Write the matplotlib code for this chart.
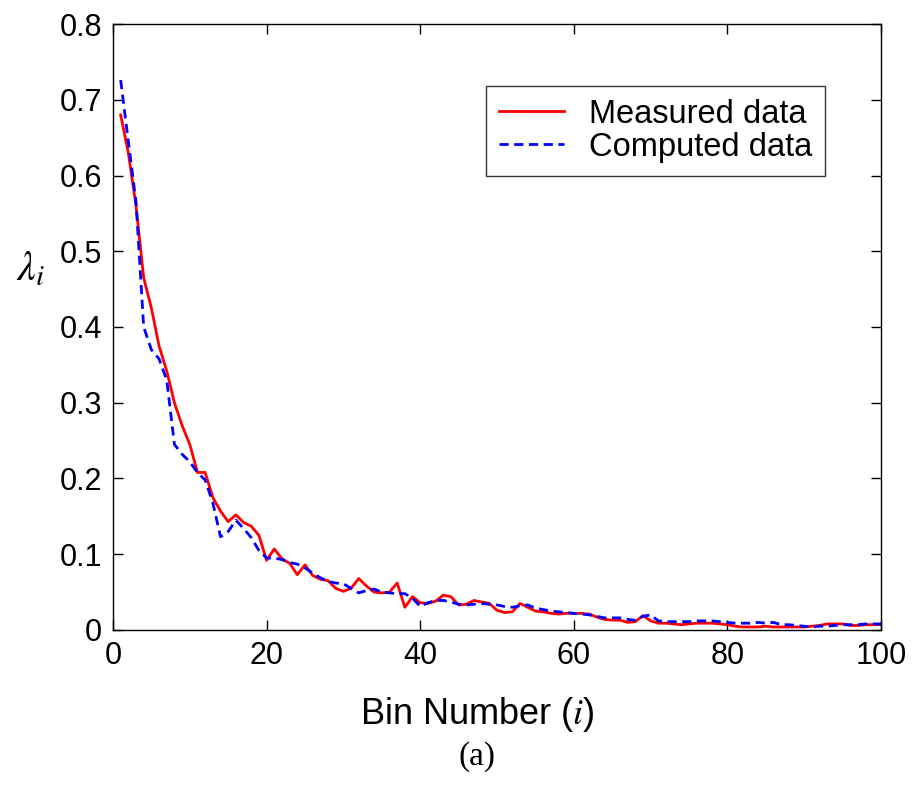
import matplotlib
matplotlib.use("Agg")
import matplotlib.pyplot as plt
import numpy as np

bins = list(range(1, 101))

measured = [
    0.680, 0.630, 0.560, 0.465, 0.425, 0.375, 0.342, 0.300, 0.270, 0.245,
    0.208, 0.208, 0.175, 0.157, 0.143, 0.152, 0.142, 0.137, 0.125, 0.092,
    0.107, 0.094, 0.088, 0.073, 0.086, 0.072, 0.067, 0.065, 0.055, 0.051,
    0.055, 0.068, 0.058, 0.050, 0.049, 0.050, 0.062, 0.030, 0.044, 0.036,
    0.035, 0.038, 0.046, 0.044, 0.033, 0.034, 0.039, 0.037, 0.035, 0.026,
    0.023, 0.024, 0.035, 0.030, 0.025, 0.024, 0.022, 0.021, 0.022, 0.022,
    0.022, 0.021, 0.017, 0.014, 0.013, 0.013, 0.010, 0.011, 0.019, 0.012,
    0.009, 0.009, 0.008, 0.007, 0.008, 0.009, 0.009, 0.009, 0.008, 0.007,
    0.005, 0.004, 0.004, 0.004, 0.005, 0.004, 0.004, 0.004, 0.004, 0.004,
    0.005, 0.006, 0.008, 0.008, 0.008, 0.006, 0.006, 0.007, 0.007, 0.007,
]

computed = [
    0.726, 0.645, 0.565, 0.400, 0.370, 0.358, 0.330, 0.245, 0.232, 0.222,
    0.208, 0.198, 0.168, 0.123, 0.130, 0.145, 0.134, 0.122, 0.105, 0.095,
    0.095, 0.093, 0.089, 0.087, 0.082, 0.075, 0.069, 0.064, 0.062, 0.061,
    0.055, 0.049, 0.052, 0.054, 0.050, 0.049, 0.048, 0.048, 0.042, 0.031,
    0.036, 0.039, 0.039, 0.037, 0.034, 0.033, 0.034, 0.035, 0.034, 0.033,
    0.031, 0.030, 0.032, 0.033, 0.029, 0.027, 0.025, 0.024, 0.023, 0.022,
    0.021, 0.020, 0.018, 0.016, 0.016, 0.016, 0.014, 0.013, 0.018, 0.020,
    0.012, 0.011, 0.011, 0.011, 0.011, 0.012, 0.012, 0.012, 0.011, 0.010,
    0.009, 0.009, 0.009, 0.010, 0.009, 0.010, 0.007, 0.007, 0.006, 0.005,
    0.004, 0.005, 0.005, 0.006, 0.007, 0.007, 0.007, 0.008, 0.008, 0.008,
]

xticks = [0, 20, 40, 60, 80, 100]
yticks = [0, 0.1, 0.2, 0.3, 0.4, 0.5, 0.6, 0.7, 0.8]
ytick_labels = ["0", "0.1", "0.2", "0.3", "0.4", "0.5", "0.6", "0.7", "0.8"]

plt.rcParams['font.family'] = ['Liberation Sans', 'DejaVu Sans']
plt.rcParams['mathtext.fontset'] = 'stix'

fig = plt.figure(figsize=(9.14, 7.87), dpi=100)
ax = fig.add_axes([0.1236, 0.1995, 0.8404, 0.7700])

ax.plot(bins, measured, color='#ff0000', linewidth=2.0, linestyle='-', label='Measured data')
ax.plot(bins, computed, color='#0000ff', linewidth=2.0, linestyle=(0, (3.3, 2.0)), label='Computed data')

ax.set_xlim(0, 100)
ax.set_ylim(0, 0.8)
ax.set_xticks(xticks)
ax.set_yticks(yticks)
ax.set_yticklabels(ytick_labels)
ax.tick_params(direction='in', length=7, width=1, top=True, right=True,
               labelsize=22, pad=8)
for s in ax.spines.values():
    s.set_linewidth(1.0)

leg = ax.legend(loc='upper right', bbox_to_anchor=(0.927, 0.898), borderaxespad=0,
                fontsize=23.5, frameon=True, fancybox=False, handlelength=2.0,
                handletextpad=0.75, borderpad=0.4, labelspacing=0.05)
leg.get_frame().set_edgecolor('black')
leg.get_frame().set_linewidth(1.0)

fig.text(0.522, 0.092, r'Bin Number ($\mathit{i}$)', ha='center', va='center', fontsize=26)
fig.text(0.033, 0.658, r'$\lambda_i$', ha='center', va='center', fontsize=30)
fig.text(0.522, 0.038, '(a)', ha='center', va='center', fontsize=24, family=['Liberation Serif'])

fig.savefig('out.png', dpi=100)
